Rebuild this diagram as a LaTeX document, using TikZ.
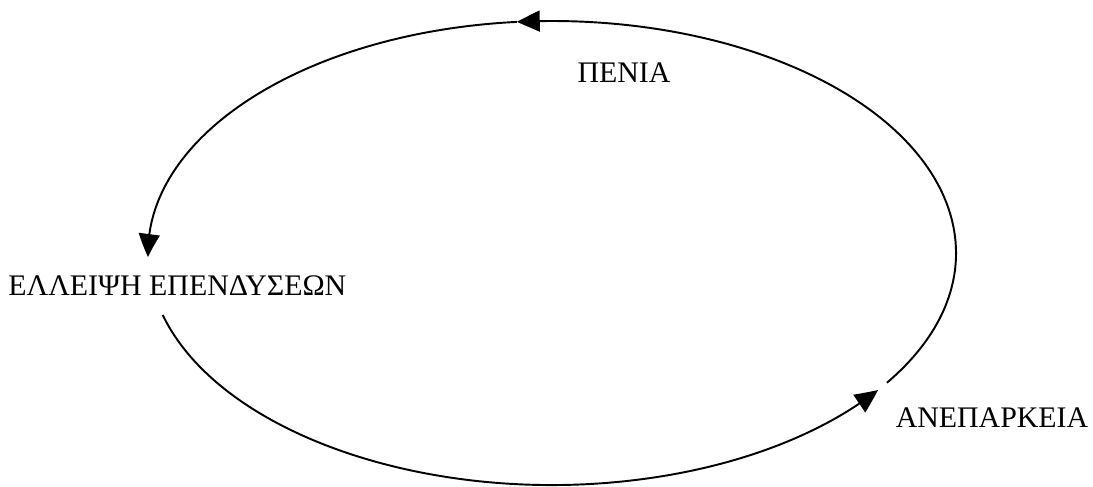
\documentclass[tikz,border=0pt]{standalone}
\usepackage{fontspec}
\setmainfont{Liberation Serif}
\usepackage{tikz}
\usetikzlibrary{arrows.meta, calc, bending}

\tikzset{
  cycline/.style={line width=1.1pt, -{Triangle[length=0.46cm, width=0.42cm, bend]}},
  cyclabel/.style={font=\fontsize{17}{20}\selectfont, inner sep=0pt}
}

\begin{document}
\begin{tikzpicture}
  \useasboundingbox (0,0) rectangle (21.86,-9.72);

  % Labels
  \node[cyclabel] (poverty) at (12.48,-1.45) {ΠΕΝΙΑ};
  \node[cyclabel, anchor=west] (invest) at (0.16,-5.72) {ΕΛΛΕΙΨΗ ΕΠΕΝΔΥΣΕΩΝ};
  \node[cyclabel] (shortage) at (19.84,-8.36) {ΑΝΕΠΑΡΚΕΙΑ};

  % Cycle
  \coordinate (mid) at (11.04,-5.06);
  \coordinate (rightstart) at ($(mid)+(326:8.08 and 4.64)$);
  \coordinate (topmark) at ($(mid)+(95:8.08 and 4.64)$);
  \coordinate (lowstart) at ($(mid)+(195.5:8.08 and 4.64)$);

  \draw[cycline] (rightstart) arc[start angle=326, end angle=455, x radius=8.08, y radius=4.64];
  \draw[cycline] (topmark) arc[start angle=95, end angle=181, x radius=8.08, y radius=4.64];
  \draw[cycline] (lowstart) arc[start angle=195.5, end angle=323.8, x radius=8.08, y radius=4.64];
\end{tikzpicture}
\end{document}
